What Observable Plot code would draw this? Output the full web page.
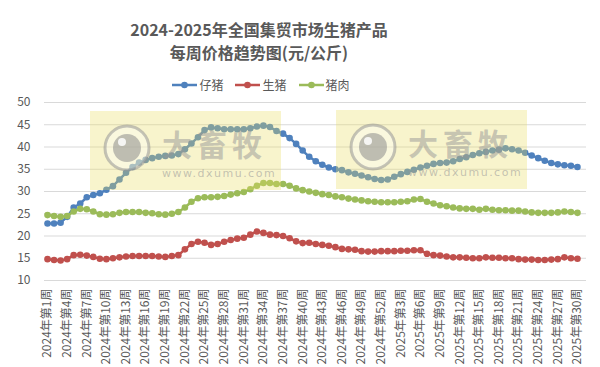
<!DOCTYPE html>
<html><head><meta charset="utf-8">
<script src="https://cdn.jsdelivr.net/npm/d3@7"></script>
<script src="https://cdn.jsdelivr.net/npm/@observablehq/plot@0.6"></script>
<style>
body{margin:0;background:#fff;font-family:"Noto Sans CJK SC","Noto Sans",sans-serif;}
#wrap{position:relative;width:600px;height:367px;overflow:hidden;background:#fff;}
#title{position:absolute;top:18px;left:0;width:518px;text-align:center;font-weight:bold;font-size:16px;line-height:23px;color:#595959;}
#legend{position:absolute;top:77px;left:0;width:522px;display:flex;justify-content:center;font-size:12px;color:#595959;line-height:16px;}
.li{display:flex;align-items:center;margin:0 6px;}
.li svg{margin-right:2px;}
#chart{position:absolute;top:88px;left:0;}
.wm{position:absolute;background:rgba(232,220,95,0.32);pointer-events:none;}
.wm svg{position:absolute;}
.wmt{position:absolute;font-weight:bold;font-size:30px;line-height:30px;color:rgba(150,150,150,0.5);letter-spacing:5px;white-space:nowrap;}
.wmu{position:absolute;font-family:"DejaVu Sans",sans-serif;font-size:11px;line-height:12px;color:rgba(150,150,150,0.55);letter-spacing:1.5px;white-space:nowrap;}
</style></head>
<body>
<div id="wrap">
  <div id="title">2024-2025年全国集贸市场生猪产品<br>每周价格趋势图(元/公斤)</div>
  <div id="legend"></div>
  <div id="chart"></div>
</div>
<script>
// ---- data ----
const seriesNames = ["仔猪", "生猪", "猪肉"];
const seriesColors = ["#4F81BD", "#C0504D", "#9BBB59"];
const years = [2024, 2025];
const weeksPerYear = [52, 30];
const piglet = [22.8,22.8,23.0,24.3,26.4,27.3,28.7,29.2,29.6,30.4,31.2,32.7,34.2,35.5,36.5,37.1,37.5,37.8,38.0,38.1,
  38.4,39.5,40.8,42.2,43.8,44.4,44.2,44.0,44.0,44.0,44.0,44.2,44.6,44.8,44.5,43.6,43.0,42.0,40.7,39.2,
  37.8,36.8,36.0,35.4,35.0,34.8,34.3,34.0,33.6,33.2,32.8,32.6,32.7,33.3,33.9,34.4,34.9,35.4,35.8,36.2,
  36.4,36.5,36.8,37.3,37.7,38.2,38.6,38.9,39.2,39.4,39.7,39.5,39.2,38.7,38.1,37.5,36.9,36.4,36.1,35.9,
  35.8,35.5];
const hog = [14.8,14.6,14.5,14.8,15.7,15.8,15.6,15.3,14.9,14.8,15.0,15.2,15.4,15.5,15.5,15.5,15.5,15.4,15.3,15.5,
  15.7,17.0,18.2,18.7,18.5,18.0,18.2,18.7,19.1,19.4,19.6,20.3,21.0,20.7,20.3,20.2,20.0,19.5,18.8,18.4,
  18.5,18.2,18.0,17.8,17.5,17.1,17.0,16.9,16.6,16.5,16.5,16.6,16.6,16.6,16.7,16.7,16.8,16.8,16.0,15.7,
  15.6,15.4,15.2,15.2,15.1,15.0,15.0,15.2,15.1,15.1,15.0,15.0,14.8,14.7,14.7,14.6,14.6,14.7,14.8,15.2,
  15.0,14.9];
const pork = [24.7,24.5,24.3,24.5,25.5,26.1,26.0,25.5,24.9,24.8,24.9,25.2,25.4,25.4,25.4,25.2,25.1,24.9,24.8,25.0,
  25.4,26.4,27.7,28.5,28.7,28.7,28.8,29.0,29.3,29.6,29.9,30.5,31.3,31.9,31.9,31.7,31.7,31.3,30.7,30.3,
  30.0,29.7,29.4,29.2,28.9,28.7,28.4,28.2,28.0,27.8,27.7,27.6,27.6,27.6,27.7,27.8,28.2,28.3,27.7,27.3,
  26.9,26.7,26.4,26.2,26.1,26.1,25.9,26.1,25.9,25.8,25.8,25.7,25.7,25.5,25.3,25.2,25.2,25.2,25.3,25.5,
  25.4,25.2];
const yTicks = [10, 15, 20, 25, 30, 35, 40, 45, 50];

// week labels
const weekLabels = [];
years.forEach((y, k) => { for (let w = 1; w <= weeksPerYear[k]; w++) weekLabels.push(`${y}年第${w}周`); });
const xTickIdx = weekLabels.map((_, i) => i).filter(i => i % 3 === 0);

const seriesValues = [piglet, hog, pork];
const rows = [];
seriesValues.forEach((vals, s) => vals.forEach((v, i) => rows.push({i, v, name: seriesNames[s]})));

// legend
const leg = document.getElementById("legend");
seriesNames.forEach((n, k) => {
  const d = document.createElement("div"); d.className = "li";
  d.innerHTML = `<svg width="25" height="10"><line x1="0" x2="25" y1="5" y2="5" stroke="${seriesColors[k]}" stroke-width="2.5"/><circle cx="12.5" cy="5" r="3.3" fill="${seriesColors[k]}"/></svg><span>${n}</span>`;
  leg.appendChild(d);
});

const marks = [
  Plot.ruleY(yTicks, {stroke: "#d9d9d9", strokeWidth: 1}),
  Plot.axisY({ticks: yTicks, tickSize: 0, tickPadding: 14, fontSize: 12, fill: "#595959", label: null}),
  Plot.axisX({ticks: xTickIdx, tickSize: 0, tickRotate: -90, tickPadding: 8, fontSize: 12, fill: "#595959",
    tickFormat: i => weekLabels[i], label: null})
];
seriesNames.forEach((n, k) => {
  const d = rows.filter(r => r.name === n);
  marks.push(Plot.line(d, {x: "i", y: "v", stroke: seriesColors[k], strokeWidth: 2.5}));
  marks.push(Plot.dot(d, {x: "i", y: "v", fill: seriesColors[k], r: 3.3}));
});

const chart = Plot.plot({
  width: 600, height: 279,
  marginTop: 14, marginBottom: 87, marginLeft: 44, marginRight: 14,
  style: {fontFamily: "'Noto Sans CJK SC', sans-serif", color: "#595959", background: "transparent", overflow: "visible"},
  x: {type: "linear", domain: [-0.46, weekLabels.length + 0.38]},
  y: {domain: [10, 50]},
  marks
});
document.getElementById("chart").appendChild(chart);

// watermark overlays (decoration)
const wrap = document.getElementById("wrap");
[[90, 111], [336, 110]].forEach(([L, T]) => {
  const w = document.createElement("div"); w.className = "wm";
  w.style.left = L + "px"; w.style.top = T + "px"; w.style.width = "191px"; w.style.height = "79px";
  w.innerHTML = `<svg width="60" height="60" style="left:7px;top:7px">
      <circle cx="30" cy="30" r="22" fill="rgba(255,255,255,0.35)" stroke="rgba(150,150,150,0.55)" stroke-width="3"/>
      <circle cx="30" cy="30" r="14" fill="rgba(140,140,140,0.55)"/>
      <circle cx="25" cy="24" r="4" fill="rgba(255,255,255,0.85)"/></svg>
    <div class="wmt" style="left:72px;top:17px">大畜牧</div>
    <div class="wmu" style="left:72px;top:57px">www.dxumu.com</div>`;
  wrap.appendChild(w);
});
</script>
</body></html>
